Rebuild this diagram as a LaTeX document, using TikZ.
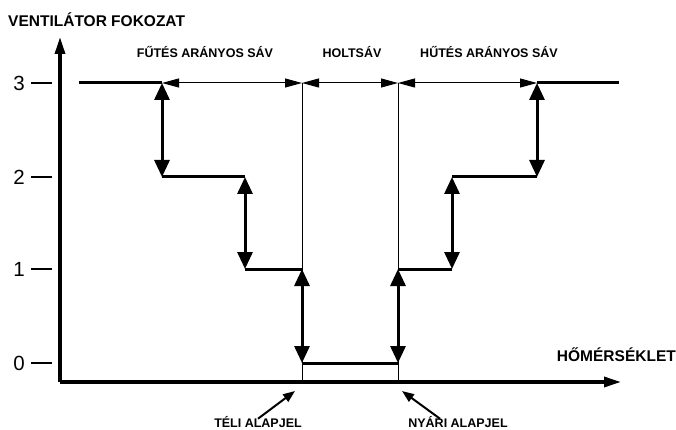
\documentclass[tikz,border=0pt]{standalone}
\usepackage{fontspec}
\setmainfont{Liberation Sans}
\usetikzlibrary{arrows.meta}

\begin{document}
\begin{tikzpicture}[x=1pt, y=-1pt,
  axis/.style={line width=3.2pt, -{Triangle[length=17pt,width=10pt]}},
  thk/.style={line width=3pt},
  thn/.style={line width=1pt},
  dim/.style={line width=1pt, {Triangle[length=17pt,width=9pt]}-{Triangle[length=17pt,width=9pt]}},
  stair/.style={line width=3pt, {Triangle[length=17pt,width=15pt]}-{Triangle[length=17pt,width=15pt]}},
  ptr/.style={line width=2pt, -{Triangle[length=12pt,width=9pt]}},
  lbl/.style={font=\bfseries\fontsize{12.5}{14}\selectfont, anchor=base, inner sep=0pt},
  big/.style={font=\bfseries\fontsize{15.5}{18}\selectfont, inner sep=0pt},
  num/.style={font=\fontsize{20.5}{22}\selectfont, inner sep=0pt}]
  \useasboundingbox (0,0) rectangle (676,430);

  % axes
  \coordinate (o) at (60,382);
  \coordinate (ytip) at (60,37);
  \coordinate (xtip) at (621,382);
  \draw[axis] (o) -- (ytip);
  \draw[axis] (o) -- (xtip);
  \node[big, anchor=base west] (ylab) at (8,27) {VENTILÁTOR FOKOZAT};
  \node[big, anchor=base east] (xlab) at (676,361) {HŐMÉRSÉKLET};

  % fan levels
  \foreach \lev/\y in {3/83, 2/177, 1/269, 0/363} {
    \node[num] (n\lev) at (19,\y) {\lev};
    \draw[line width=2.6pt] (31,\y) -- (52,\y);
  }

  % points of the curve
  \coordinate (ls) at (79,83);
  \coordinate (fa) at (162,83);
  \coordinate (tw) at (302,83);
  \coordinate (ny) at (398,83);
  \coordinate (ha) at (537,83);
  \coordinate (re) at (619,83);
  \coordinate (f2) at (162,177);
  \coordinate (g2) at (245,177);
  \coordinate (g1) at (245,269);
  \coordinate (tw1) at (302,269);
  \coordinate (tw0) at (302,363);
  \coordinate (ny0) at (398,363);
  \coordinate (ny1) at (398,269);
  \coordinate (h1) at (452,269);
  \coordinate (h2) at (452,177);
  \coordinate (ha2) at (537,177);
  \coordinate (twb) at (302,382);
  \coordinate (nyb) at (398,382);

  % bands
  \draw[thk] (ls) -- (fa);
  \draw[thk] (ha) -- (re);
  \draw[dim] (fa) -- (tw);
  \draw[dim] (tw) -- (ny);
  \draw[dim] (ny) -- (ha);
  \draw[thn] (tw) -- (twb);
  \draw[thn] (ny) -- (nyb);
  \node[lbl] (fut) at (205,58) {FŰTÉS ARÁNYOS SÁV};
  \node[lbl] (holt) at (352,58) {HOLTSÁV};
  \node[lbl] (hut) at (489,58) {HŰTÉS ARÁNYOS SÁV};

  % steps
  \draw[stair] (fa) -- (f2);
  \draw[thk] (f2) -- (g2);
  \draw[stair] (g2) -- (g1);
  \draw[thk] (g1) -- (tw1);
  \draw[stair] (tw1) -- (tw0);
  \draw[thk] (tw0) -- (ny0);
  \draw[stair] (ny0) -- (ny1);
  \draw[thk] (ny1) -- (h1);
  \draw[stair] (h1) -- (h2);
  \draw[thk] (h2) -- (ha2);
  \draw[stair] (ha2) -- (ha);

  % setpoints
  \node[lbl] (teli) at (258,427) {TÉLI ALAPJEL};
  \node[lbl] (nyari) at (458,427) {NYÁRI ALAPJEL};
  \coordinate (twp) at (295,391);
  \coordinate (nyp) at (402,391);
  \draw[ptr] ([yshift=-3pt]teli.north) -- (twp);
  \draw[ptr] ([xshift=-18pt,yshift=-3pt]nyari.north) -- (nyp);
\end{tikzpicture}
\end{document}
